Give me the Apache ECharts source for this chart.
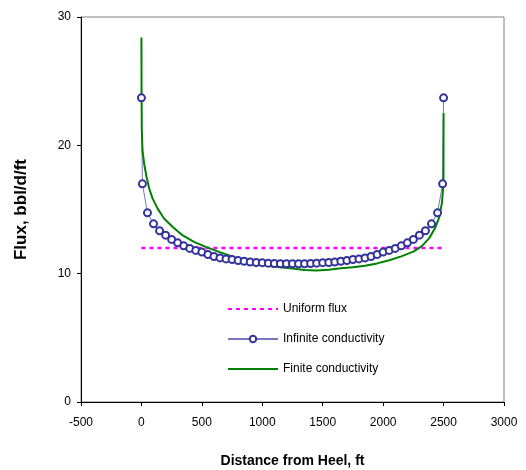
<!DOCTYPE html>
<html><head><meta charset="utf-8">
<script src="https://cdn.jsdelivr.net/npm/echarts@6/dist/echarts.min.js"></script>
<style>html,body{margin:0;padding:0;background:#fff}#c{width:526px;height:470px}</style>
</head><body><div id="c"></div>
<script>
var xTicks = [-500, 0, 500, 1000, 1500, 2000, 2500, 3000];
var yTicks = [0, 10, 20, 30];
var uniformX = [0, 2500];
var uniformY = [12, 12];
var infX = [0,8,50,100,150,200,250,300,350,400,450,500,550,600,650,700,750,800,850,900,950,1000,1050,1100,1150,1200,1250,1300,1350,1400,1450,1500,1550,1600,1650,1700,1750,1800,1850,1900,1950,2000,2050,2100,2150,2200,2250,2300,2350,2400,2450,2492,2500];
var infY = [23.7,17.0,14.74,13.88,13.34,13.0,12.67,12.40,12.17,11.97,11.81,11.68,11.49,11.34,11.23,11.15,11.10,11.03,10.97,10.91,10.87,10.86,10.82,10.79,10.77,10.77,10.77,10.77,10.77,10.79,10.82,10.86,10.87,10.91,10.97,11.03,11.10,11.15,11.23,11.34,11.49,11.68,11.81,11.97,12.17,12.40,12.67,13.0,13.34,13.88,14.74,17.0,23.7];
var finX = [0,1,3,9,22,42,64,92,133,187,257,339,435,532,642,750,850,950,1050,1150,1250,1350,1450,1550,1650,1750,1850,1950,2050,2150,2250,2320,2380,2430,2465,2486,2495,2499,2500];
var finY = [28.4,24.5,21.2,19.6,18.6,17.55,16.64,15.87,15.09,14.3,13.65,13.0,12.48,12.09,11.7,11.35,11.0,10.78,10.6,10.5,10.4,10.28,10.24,10.3,10.42,10.5,10.62,10.8,11.05,11.35,11.72,12.15,12.75,13.55,14.43,15.5,16.5,17.5,22.5];
var names = ['Uniform flux', 'Infinite conductivity', 'Finite conductivity'];

function pairs(xs, ys){ return xs.map(function(x,i){ return [x, ys[i]]; }); }

var chart = echarts.init(document.getElementById('c'), null, {renderer:'canvas'});
var font = 'Liberation Sans, Arial, sans-serif';
chart.setOption({
  animation: false,
  textStyle: {fontFamily: font},
  grid: {left: 81, right: 22, top: 17, bottom: 68, show: true, borderColor: '#808080', borderWidth: 1, containLabel: false, outerBoundsMode: 'none'},
  legend: {
    orient: 'vertical', left: 222, top: 298, itemWidth: 50, itemHeight: 8, itemGap: 18,
    textStyle: {fontFamily: font, fontSize: 12, color: '#000'},
    data: [
      {name: names[0], itemStyle: {opacity: 0}},
      {name: names[1]},
      {name: names[2], itemStyle: {opacity: 0}}
    ]
  },
  xAxis: {
    type: 'value', min: xTicks[0], max: xTicks[xTicks.length-1], interval: 500,
    name: 'Distance from Heel, ft', nameLocation: 'middle', nameGap: 52,
    nameTextStyle: {fontFamily: font, fontSize: 14, fontWeight: 'bold', color: '#000'},
    axisLine: {show: true, onZero: false, lineStyle: {color: '#000', width: 1}},
    axisTick: {show: true, inside: false, length: 4, lineStyle: {color: '#000'}},
    axisLabel: {fontFamily: font, fontSize: 12, color: '#000', margin: 15, formatter: function(v){ return String(v); }},
    splitLine: {show: false}
  },
  yAxis: {
    type: 'value', min: yTicks[0], max: yTicks[yTicks.length-1], interval: 10,
    name: 'Flux, bbl/d/ft', nameLocation: 'middle', nameGap: 51,
    nameTextStyle: {fontFamily: font, fontSize: 17, fontWeight: 'bold', color: '#000'},
    axisLine: {show: true, onZero: false, lineStyle: {color: '#000', width: 1}},
    axisTick: {show: true, inside: false, length: 4, lineStyle: {color: '#000'}},
    axisLabel: {fontFamily: font, fontSize: 12, color: '#000', margin: 10, formatter: function(v){ return String(v); }},
    splitLine: {show: false}
  },
  series: [
    {
      name: names[0], type: 'line', data: pairs(uniformX, uniformY), showSymbol: false, symbol: 'none',
      lineStyle: {color: '#ff00ff', width: 2.5, type: [4, 4]}, itemStyle: {color: '#ff00ff'}
    },
    {
      name: names[1], type: 'line', data: pairs(infX, infY), symbol: 'circle', symbolSize: 7,
      lineStyle: {color: '#7878c0', width: 1},
      itemStyle: {color: '#ffffff', borderColor: '#333399', borderWidth: 2}
    },
    {
      name: names[2], type: 'line', data: pairs(finX, finY), showSymbol: false, symbol: 'none',
      lineStyle: {color: '#008000', width: 2}, itemStyle: {color: '#008000'}
    }
  ]
});
</script></body></html>
